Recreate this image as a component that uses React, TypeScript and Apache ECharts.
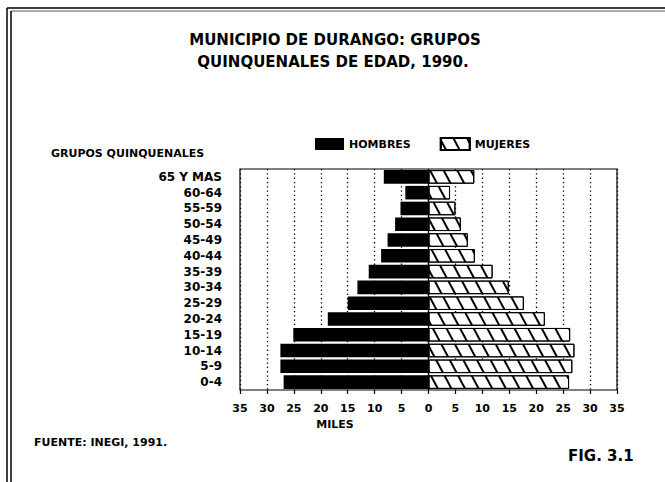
import React, { useEffect, useRef } from "react";
import * as echarts from "echarts";

const categories = ["65 Y MAS", "60-64", "55-59", "50-54", "45-49", "40-44", "35-39", "30-34", "25-29", "20-24", "15-19", "10-14", "5-9", "0-4"];
const hombres = [8.3, 4.3, 5.2, 6.2, 7.6, 8.8, 11.1, 13.2, 15.0, 18.7, 25.1, 27.5, 27.5, 26.9];
const mujeres = [8.5, 4.0, 5.0, 6.0, 7.3, 8.6, 11.9, 14.9, 17.7, 21.6, 26.3, 27.1, 26.7, 26.1];
const titleLines = ["MUNICIPIO DE DURANGO: GRUPOS", "QUINQUENALES DE EDAD, 1990."];

const FONT = "DejaVu Sans";

export default function App() {
  const ref = useRef<HTMLDivElement>(null);
  useEffect(() => {
    if (!ref.current) return;
    const chart = echarts.init(ref.current, undefined, { renderer: "svg" });
    const txt = (text: string, x: number, y: number, size: number, align: string = "left", weight: string = "bold") => ({
      type: "text",
      x,
      y,
      style: { text, fontFamily: FONT, fontSize: size, fontWeight: weight, fill: "#000", align, verticalAlign: "middle" },
    });
    chart.setOption({
      animation: false,
      backgroundColor: "#fff",
      textStyle: { fontFamily: FONT },
      legend: {
        left: 310,
        top: 132,
        itemWidth: 29,
        itemHeight: 12,
        itemGap: 29,
        icon: "rect",
        textStyle: { fontFamily: FONT, fontSize: 11, fontWeight: "bold", color: "#000" },
        data: ["HOMBRES", "MUJERES"],
      },
      grid: { left: 240, top: 169, width: 377, height: 221, show: true, borderColor: "#000", borderWidth: 1.2, backgroundColor: "transparent" },
      xAxis: {
        type: "value",
        min: -35,
        max: 35,
        interval: 5,
        axisLine: { show: false },
        axisTick: { show: true, length: 4, lineStyle: { color: "#000", width: 1.2 } },
        axisLabel: {
          margin: 13,
          fontFamily: FONT,
          fontSize: 11,
          fontWeight: "bold",
          color: "#000",
          formatter: (v: number) => String(Math.abs(v)),
        },
        splitLine: { show: true, lineStyle: { color: "#000", width: 1.3, type: [1.3, 3] } },
      },
      yAxis: {
        type: "category",
        data: categories,
        inverse: true,
        axisLine: { show: false },
        axisTick: { show: false },
        axisLabel: { margin: 18, fontFamily: FONT, fontSize: 12, fontWeight: "bold", color: "#000" },
      },
      series: [
        {
          name: "HOMBRES",
          type: "bar",
          data: hombres.map((v) => -v),
          barCategoryGap: "14%",
          barGap: "-100%",
          itemStyle: { color: "#000" },
          markLine: {
            silent: true,
            symbol: "none",
            label: { show: false },
            lineStyle: { color: "#000", type: "solid", width: 1.3 },
            data: [{ xAxis: 0 }],
          },
        },
        {
          name: "MUJERES",
          type: "bar",
          data: mujeres,
          barCategoryGap: "14%",
          barGap: "-100%",
          itemStyle: {
            color: "#fff",
            borderColor: "#000",
            borderWidth: 1,
            decal: {
              symbol: "rect",
              symbolSize: 1,
              color: "#000",
              dashArrayX: [1, 0],
              dashArrayY: [1.4, 10],
              rotation: 1.08,
            },
          },
        },
      ],
      graphic: [
        txt(titleLines[0], 335, 40, 15, "center"),
        txt(titleLines[1], 333, 62, 15, "center"),
        txt("GRUPOS QUINQUENALES", 51, 153, 11),
        txt("MILES", 335, 424, 11, "center"),
        txt("FUENTE: INEGI, 1991.", 34, 442, 11),
        txt("FIG. 3.1", 568, 456, 15),
        { type: "line", shape: { x1: 7, y1: 8, x2: 665, y2: 8 }, style: { stroke: "#000", lineWidth: 1.5 } },
        { type: "line", shape: { x1: 11, y1: 11, x2: 665, y2: 11 }, style: { stroke: "#555", lineWidth: 1 } },
        { type: "line", shape: { x1: 7, y1: 8, x2: 7, y2: 482 }, style: { stroke: "#000", lineWidth: 1.5 } },
        { type: "line", shape: { x1: 11, y1: 11, x2: 11, y2: 482 }, style: { stroke: "#000", lineWidth: 1.5 } },
      ],
    });
    return () => chart.dispose();
  }, []);
  return <div ref={ref} style={{ position: "fixed", left: 0, top: 0, width: 665, height: 482, background: "#fff" }} />;
}
